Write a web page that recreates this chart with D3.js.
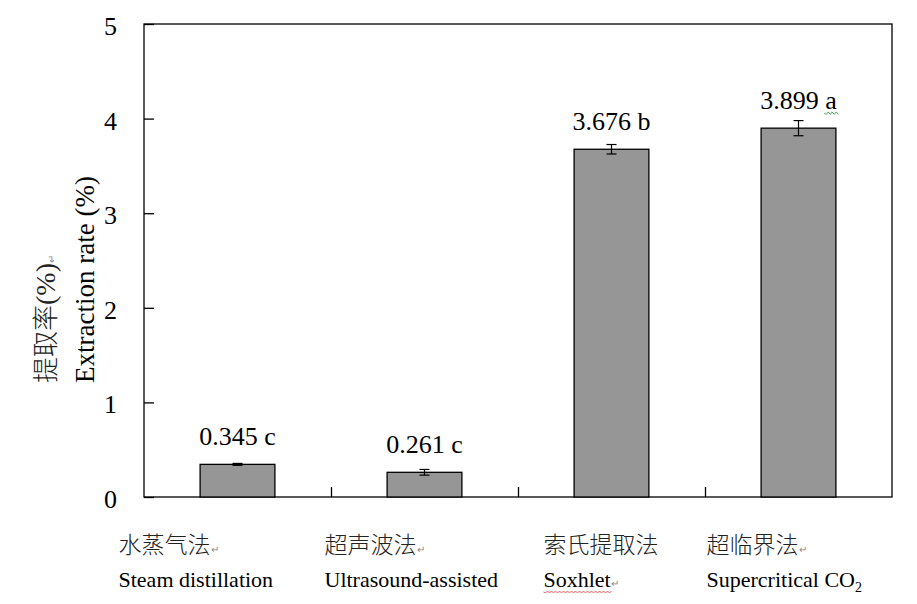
<!DOCTYPE html>
<html><head><meta charset="utf-8">
<script src="https://cdn.jsdelivr.net/npm/d3@7/dist/d3.min.js"></script>
<style>body{margin:0;background:#fff}</style>
</head><body>
<svg id="c" width="917" height="604"></svg>
<script>
const categories = ["Steam distillation","Ultrasound-assisted","Soxhlet","Supercritical CO2"];
const labelsZh = ["水蒸气法","超声波法","索氏提取法","超临界法"];
const labelsEn = ["Steam distillation","Ultrasound-assisted","Soxhlet","Supercritical CO"];
const values = [0.345, 0.261, 3.676, 3.899];
const errors = [0.01, 0.03, 0.05, 0.08];
const letters = ["c","c","b","a"];
const yTicks = [0,1,2,3,4,5];

const svg = d3.select("#c");
const L = 144, R = 892, T = 24, B = 497;
const serif = "'Liberation Serif','Times New Roman',serif";
const cjk = "'Noto Sans CJK SC',sans-serif";

const x = d3.scaleBand().domain(categories).range([L, R]).paddingInner(0.6).paddingOuter(0.3);
const xLin = d3.scaleLinear().domain([0, categories.length]).range([L, R]);
const y = d3.scaleLinear().domain([0, 5]).range([B, T]);

// frame
svg.append("rect").attr("x", L).attr("y", T).attr("width", R - L).attr("height", B - T)
  .attr("fill", "none").attr("stroke", "#000").attr("stroke-width", 1.3);

// y axis
const ya = svg.append("g").attr("transform", `translate(${L},0)`)
  .call(d3.axisLeft(y).tickValues(yTicks).tickSize(-10).tickPadding(27).tickFormat(d3.format("d")));
ya.select(".domain").remove();
ya.selectAll("line").attr("stroke", "#000").attr("stroke-width", 1.3);
ya.selectAll("text").attr("font-family", serif).attr("font-size", 26).attr("fill", "#000").attr("dy", "0.4em");

// x axis ticks at category boundaries
const xa = svg.append("g").attr("transform", `translate(0,${B})`)
  .call(d3.axisBottom(xLin).tickValues(d3.range(1, categories.length)).tickSize(-10).tickFormat(""));
xa.select(".domain").remove();
xa.selectAll("line").attr("stroke", "#000").attr("stroke-width", 1.3);

// bars
const data = categories.map((c, i) => ({c, v: values[i], e: errors[i], l: letters[i], i}));
svg.selectAll("rect.bar").data(data).join("rect").attr("class", "bar")
  .attr("x", d => x(d.c)).attr("width", x.bandwidth())
  .attr("y", d => y(d.v)).attr("height", d => B - y(d.v))
  .attr("fill", "#969696").attr("stroke", "#000").attr("stroke-width", 1.3);

// error bars
const cx = d => x(d.c) + x.bandwidth() / 2;
const eg = svg.selectAll("g.err").data(data).join("g").attr("class", "err")
  .attr("stroke", "#000").attr("stroke-width", 1.2);
eg.append("line").attr("x1", cx).attr("x2", cx)
  .attr("y1", d => y(d.v - d.e)).attr("y2", d => y(d.v + d.e));
eg.append("line").attr("x1", d => cx(d) - 5).attr("x2", d => cx(d) + 5)
  .attr("y1", d => y(d.v + d.e)).attr("y2", d => y(d.v + d.e));
eg.append("line").attr("x1", d => cx(d) - 5).attr("x2", d => cx(d) + 5)
  .attr("y1", d => y(d.v - d.e)).attr("y2", d => y(d.v - d.e));

// value labels
const vl = svg.selectAll("text.val").data(data).join("text").attr("class", "val")
  .attr("x", cx).attr("y", d => y(d.v) - 19)
  .attr("text-anchor", "middle").attr("font-family", serif).attr("font-size", 26).attr("fill", "#000")
  .text(d => d3.format(".3f")(d.v) + " " + d.l);

// green squiggle under last letter "a"
vl.filter(d => d.i === 3).each(function(d) {
  const bb = this.getBBox();
  const x1 = bb.x + bb.width - 13, x2 = bb.x + bb.width, yy = y(d.v) - 15;
  let p = `M${x1},${yy}`;
  for (let k = x1, s = 0; k < x2; k += 2, s++) p += `L${k + 2},${yy + (s % 2 ? -1.2 : 1.2)}`;
  svg.append("path").attr("d", p).attr("fill", "none").attr("stroke", "#3c9c3c").attr("stroke-width", 0.9);
});

// category labels (manually placed text boxes in original)
const labelShift = [-119, -100, -68, -92];
const zh = svg.selectAll("text.zh").data(data).join("text").attr("class", "zh")
  .attr("x", d => cx(d) + labelShift[d.i]).attr("y", 553)
  .attr("font-family", cjk).attr("font-size", 23).attr("font-weight", 300).attr("fill", "#222")
  .text(d => labelsZh[d.i]);
zh.filter(d => d.i !== 2).append("tspan").attr("font-size", 10).attr("fill", "#888").attr("font-family", serif).text("↵");

const en = svg.selectAll("text.en").data(data).join("text").attr("class", "en")
  .attr("x", d => cx(d) + labelShift[d.i]).attr("y", 587)
  .attr("font-family", serif).attr("font-size", 22).attr("fill", "#000")
  .text(d => labelsEn[d.i]);
en.filter(d => d.i === 3).append("tspan").attr("font-size", 14).attr("dy", 5).text("2");
en.filter(d => d.i === 2).append("tspan").attr("font-size", 10).attr("fill", "#888").text("↵");
en.filter(d => d.i === 2).each(function(d) {
  const bb = this.getBBox();
  const x1 = bb.x, x2 = bb.x + bb.width - 8, yy = 592;
  let p = `M${x1},${yy}`;
  for (let k = x1, s = 0; k < x2; k += 2, s++) p += `L${k + 2},${yy + (s % 2 ? -1 : 1)}`;
  svg.append("path").attr("d", p).attr("fill", "none").attr("stroke", "#e04040").attr("stroke-width", 0.8);
});

// y titles
const yt1 = svg.append("text").attr("transform", "translate(55,383) rotate(-90)")
  .attr("font-family", cjk).attr("font-size", 26).attr("font-weight", 300).attr("fill", "#222");
yt1.append("tspan").text("提取率");
yt1.append("tspan").attr("font-family", serif).attr("font-size", 28).text("(%)");
yt1.append("tspan").attr("font-size", 10).attr("fill", "#888").attr("font-family", serif).text("↵");
svg.append("text").attr("transform", "translate(94,383) rotate(-90)")
  .attr("font-family", serif).attr("font-size", 27).attr("fill", "#000")
  .text("Extraction rate (%)");
</script>
</body></html>
